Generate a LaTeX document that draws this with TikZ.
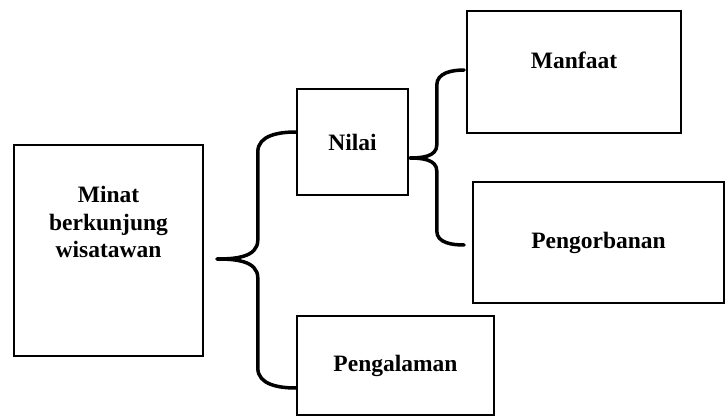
\documentclass[tikz,border=0pt]{standalone}
\usepackage{fontspec}
\setmainfont{Liberation Serif}
\usetikzlibrary{calc}
\tikzset{
  labelfont/.style={font=\bfseries\fontsize{23.5}{27.5}\selectfont},
  box/.style={draw, line width=1.6pt, inner sep=0pt, labelfont, align=center},
  lbl/.style={inner sep=0pt, labelfont, align=center},
  brace/.style={draw, line width=3.5pt, line cap=round, line join=round},
}
\begin{document}
\begin{tikzpicture}[x=1pt, y=-1pt]
  \useasboundingbox (0,0) rectangle (726,417);

  % boxes
  \node[box, minimum width=189pt, minimum height=211pt] (minat) at (108.5,250.5) {};
  \node[lbl, anchor=north] (minattext) at ([yshift=-41.8pt]minat.north)
    {Minat\\berkunjung\\wisatawan};
  \node[box, minimum width=111pt, minimum height=106pt] (nilai) at (352.5,142) {Nilai};
  \node[box, minimum width=214pt, minimum height=122pt,
        text height=16pt, text depth=23.4pt] (manfaat) at (574,72) {Manfaat};
  \node[box, minimum width=251pt, minimum height=121pt] (pengorbanan) at (598.5,242.5) {Pengorbanan};
  \node[box, line width=2.2pt, minimum width=197pt, minimum height=99pt] (pengalaman) at (395.5,365.5) {Pengalaman};

  % large brace: Minat -> Nilai / Pengalaman
  \coordinate (bigtop) at ([yshift=10pt]nilai.west);
  \coordinate (bigtip) at ([xshift=13pt, yshift=-8.5pt]minat.east);
  \coordinate (bigbot) at ([yshift=-22.5pt]pengalaman.west);
  \draw[brace] (bigtop)
    to[out=180, in=90] ($(bigtip)+(41,-107)$)
    -- ($(bigtip)+(41,-19)$)
    to[out=-90, in=0] (bigtip)
    to[out=0, in=90] ($(bigtip)+(41,19)$)
    -- ($(bigtip)+(41,109)$)
    to[out=-90, in=180] (bigbot);

  % small brace: Nilai -> Manfaat / Pengorbanan
  \coordinate (smtop) at ([xshift=-2pt, yshift=2pt]manfaat.west);
  \coordinate (smtip) at ([xshift=1pt, yshift=-16pt]nilai.east);
  \coordinate (smbot) at ([xshift=-8pt, yshift=-2.5pt]pengorbanan.west);
  \draw[brace] (smtop)
    to[out=180, in=90] ($(smtip)+(27,-73)$)
    -- ($(smtip)+(27,-13)$)
    to[out=-90, in=0] (smtip)
    to[out=0, in=90] ($(smtip)+(27,13)$)
    -- ($(smtip)+(27,73)$)
    to[out=-90, in=180] (smbot);
\end{tikzpicture}
\end{document}
